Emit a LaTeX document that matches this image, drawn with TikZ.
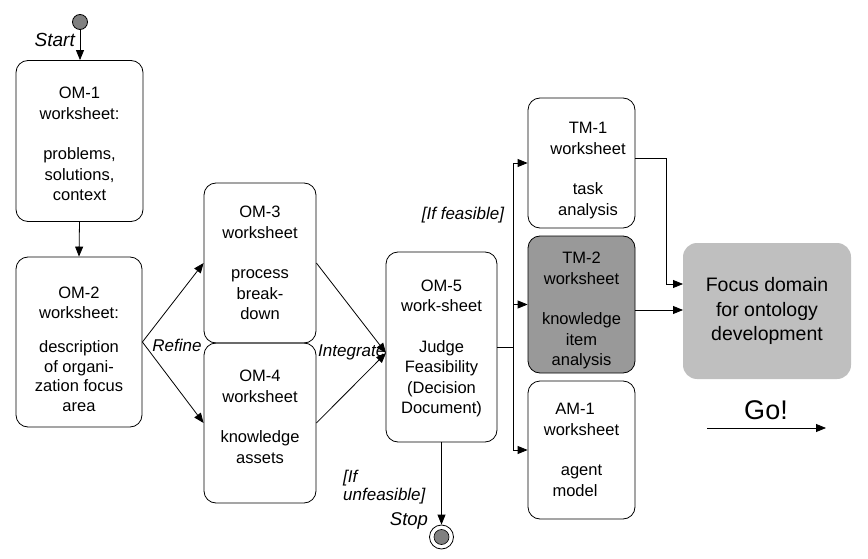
\documentclass[tikz,border=0pt]{standalone}
\usepackage{fontspec}
\setmainfont{Liberation Sans}
\usetikzlibrary{arrows.meta}
\newcommand{\tgap}[1]{\rule{0pt}{\dimexpr 11.8pt+#1pt\relax}}
\newcommand{\rs}{\hspace*{13pt}}
\begin{document}
\begin{tikzpicture}[x=1pt,y=-1pt,
  box/.style={draw, line width=0.8pt, rounded corners=12pt, align=center, inner sep=0pt,
    font=\fontsize{16.5}{20.5}\selectfont},
  arr/.style={line width=0.8pt, -{Triangle[length=10pt,width=8pt]}},
  conn/.style={line width=0.8pt},
  lbl/.style={font=\fontsize{17}{19}\selectfont\itshape, inner sep=0pt}]
\useasboundingbox (0,0) rectangle (868,559);
% start
\node[circle, draw, line width=0.8pt, fill=black!50, minimum size=15pt, inner sep=0pt] (start) at (80,22) {};
\node[lbl, font=\fontsize{19}{21}\selectfont\itshape, anchor=east] (lstart) at (75,40) {Start};
% boxes
\node[box, minimum width=127pt, minimum height=161pt] (om1) at (79.5,141)
  {\tgap{6}OM-1\\worksheet:\\[20pt]problems,\\solutions,\\context};
\node[box, minimum width=126pt, minimum height=170pt, font=\fontsize{16.5}{19.5}\selectfont] (om2) at (79,342)
  {\tgap{14}OM-2\\worksheet:\\[15pt]description\\of organi-\\zation focus\\area};
\node[box, minimum width=112pt, minimum height=160pt] (om3) at (260,263)
  {OM-3\\worksheet\\[20pt]process\\break-\\down};
\node[box, minimum width=112pt, minimum height=160pt] (om4) at (260,423)
  {\tgap{8}OM-4\\worksheet\\[20pt]knowledge\\assets\\};
\node[box, minimum width=111pt, minimum height=190pt] (om5) at (441.5,347)
  {\tgap{3}OM-5\\work-sheet\\[20pt]Judge\\Feasibility\\(Decision\\Document)};
\node[box, minimum width=107pt, minimum height=130pt] (tm1) at (581.5,163)
  {\tgap{15}\rs TM-1\\\rs worksheet\\[20pt]\rs task\\\rs analysis};
\node[box, fill=black!40, minimum width=107pt, minimum height=137pt] (tm2) at (581.5,304.5)
  {\tgap{12}TM-2\\worksheet\\[20pt]knowledge\\item\\analysis};
\node[box, minimum width=107pt, minimum height=138pt] (am1) at (581.5,450)
  {AM-1\rs\\worksheet\rs\\[20pt]agent\rs\\model\rs};
\node[draw=none, fill=black!25, rounded corners=14pt, minimum width=168pt, minimum height=136pt,
  align=center, inner sep=0pt, font=\fontsize{19.5}{24.5}\selectfont] (focus) at (767,311)
  {Focus domain\\for ontology\\development};
% stop
\node[circle, draw, line width=0.8pt, minimum size=24pt, inner sep=0pt] (stop) at (441.5,537) {};
\node[circle, fill=black!50, draw, line width=0.6pt, minimum size=15pt, inner sep=0pt] (stopin) at (441.5,537) {};
% labels
\node[lbl] (lrefine) at (177,345) {Refine};
\node[lbl, anchor=west] (linteg) at (318,352) {Integrate};
\node[lbl] (lfeas) at (463,215) {[If feasible]};
\node[lbl, anchor=west] (lif) at (343,478) {[If};
\node[lbl, anchor=west] (lunf) at (343,496) {unfeasible]};
\node[lbl, font=\fontsize{18.5}{20}\selectfont\itshape] (lstop) at (409,521) {Stop};
\node[font=\fontsize{27}{30}\selectfont, inner sep=0pt] (go) at (766,410) {Go!};
% coordinates
\coordinate (jn) at (513,347);
\coordinate (intin) at (386,353);
\coordinate (t1out) at (635,158);
\coordinate (bend) at (666,284);
\coordinate (f1) at (683,284);
\coordinate (t2out) at (635,310);
\coordinate (f2) at (683,310);
\coordinate (g1) at (707,428);
\coordinate (g2) at (826,428);
% connectors
\draw[arr] (start.south) -- (start.south |- om1.north);
\draw[arr] (om1.south) -- (om2.north);
\draw[arr] (om2.east) -- (om3.west);
\draw[arr] (om2.east) -- (om4.west);
\draw[arr] (om3.east) -- (intin);
\draw[arr] (om4.east) -- (intin);
\draw[conn] (om5.east) -- (jn);
\draw[arr] (jn) |- (tm1.west);
\draw[arr] (jn) |- (tm2.west);
\draw[arr] (jn) |- (am1.west);
\draw[arr] (om5.south) -- (stop.north);
\draw[arr] (t1out) -| (bend) -- (f1);
\draw[arr] (t2out) -- (f2);
\draw[arr] (g1) -- (g2);
\end{tikzpicture}
\end{document}
